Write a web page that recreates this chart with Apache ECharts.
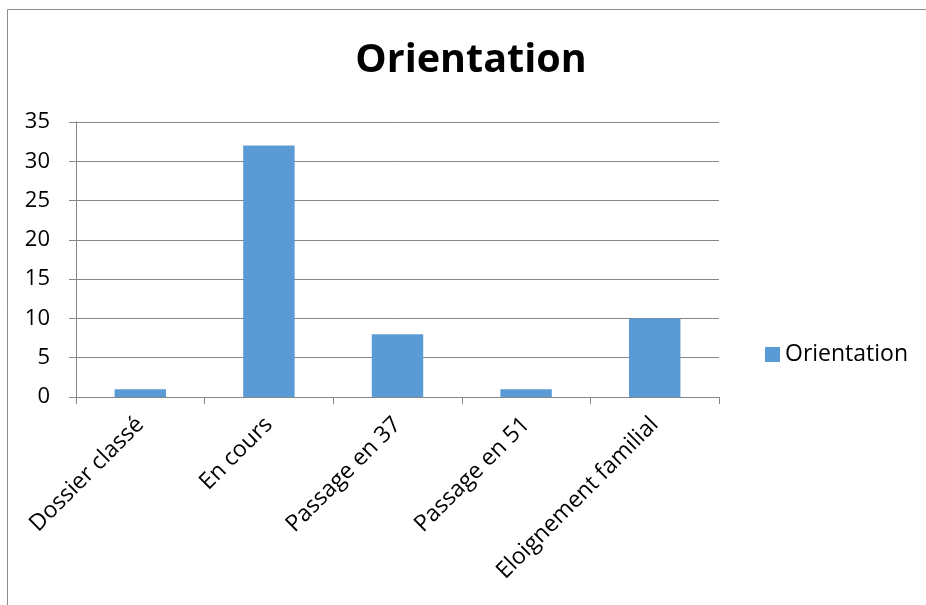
<!DOCTYPE html>
<html><head><meta charset="utf-8">
<script src="https://cdn.jsdelivr.net/npm/echarts@6/dist/echarts.min.js"></script>
<style>html,body{margin:0;padding:0;background:#fff}#c{width:926px;height:605px}</style>
</head><body><div id="c"></div>
<script>
const categories = ['Dossier classé', 'En cours', 'Passage en 37', 'Passage en 51', 'Eloignement familial'];
const values = [1, 32, 8, 1, 10];
const seriesName = 'Orientation';
const titleText = 'Orientation';
const yTicks = { min: 0, max: 35, interval: 5 };

const FONT = '"Open Sans", "Noto Sans", sans-serif';
const chart = echarts.init(document.getElementById('c'));
chart.setOption({
  animation: false,
  textStyle: { fontFamily: FONT },
  graphic: [
    { type: 'rect', shape: { x: 7.5, y: 9.5, width: 940, height: 620 }, style: { fill: 'none', stroke: '#8c8c8c', lineWidth: 1 }, silent: true },
    { type: 'text', x: 471, y: 61, style: { text: titleText, fontSize: 39.5, fontWeight: 'bold', fontFamily: FONT, fill: '#000', textAlign: 'center', textVerticalAlign: 'middle' } }
  ],
  legend: {
    left: 760, top: 338,
    itemWidth: 15, itemHeight: 15,
    icon: 'rect',
    textStyle: { fontSize: 23, color: '#000', fontFamily: FONT },
    data: [seriesName]
  },
  grid: { left: 76, right: 207, top: 122, bottom: 208, containLabel: false },
  xAxis: {
    type: 'category',
    data: categories,
    axisLine: { show: true, lineStyle: { color: '#868686', width: 1 } },
    axisTick: { show: true, length: 7, lineStyle: { color: '#868686' } },
    axisLabel: { rotate: 45, fontSize: 23, color: '#000', margin: 24, interval: 0, fontFamily: FONT }
  },
  yAxis: {
    type: 'value',
    min: yTicks.min, max: yTicks.max, interval: yTicks.interval,
    axisLine: { show: true, lineStyle: { color: '#868686', width: 1 } },
    axisTick: { show: true, length: 7, lineStyle: { color: '#868686' } },
    axisLabel: { fontSize: 22, color: '#000', margin: 26, fontFamily: FONT },
    splitLine: { show: true, lineStyle: { color: '#868686', width: 1 } }
  },
  series: [{
    name: seriesName,
    type: 'bar',
    data: values,
    barWidth: '40%',
    itemStyle: { color: '#5B9BD5' }
  }]
});
</script>
</body></html>
